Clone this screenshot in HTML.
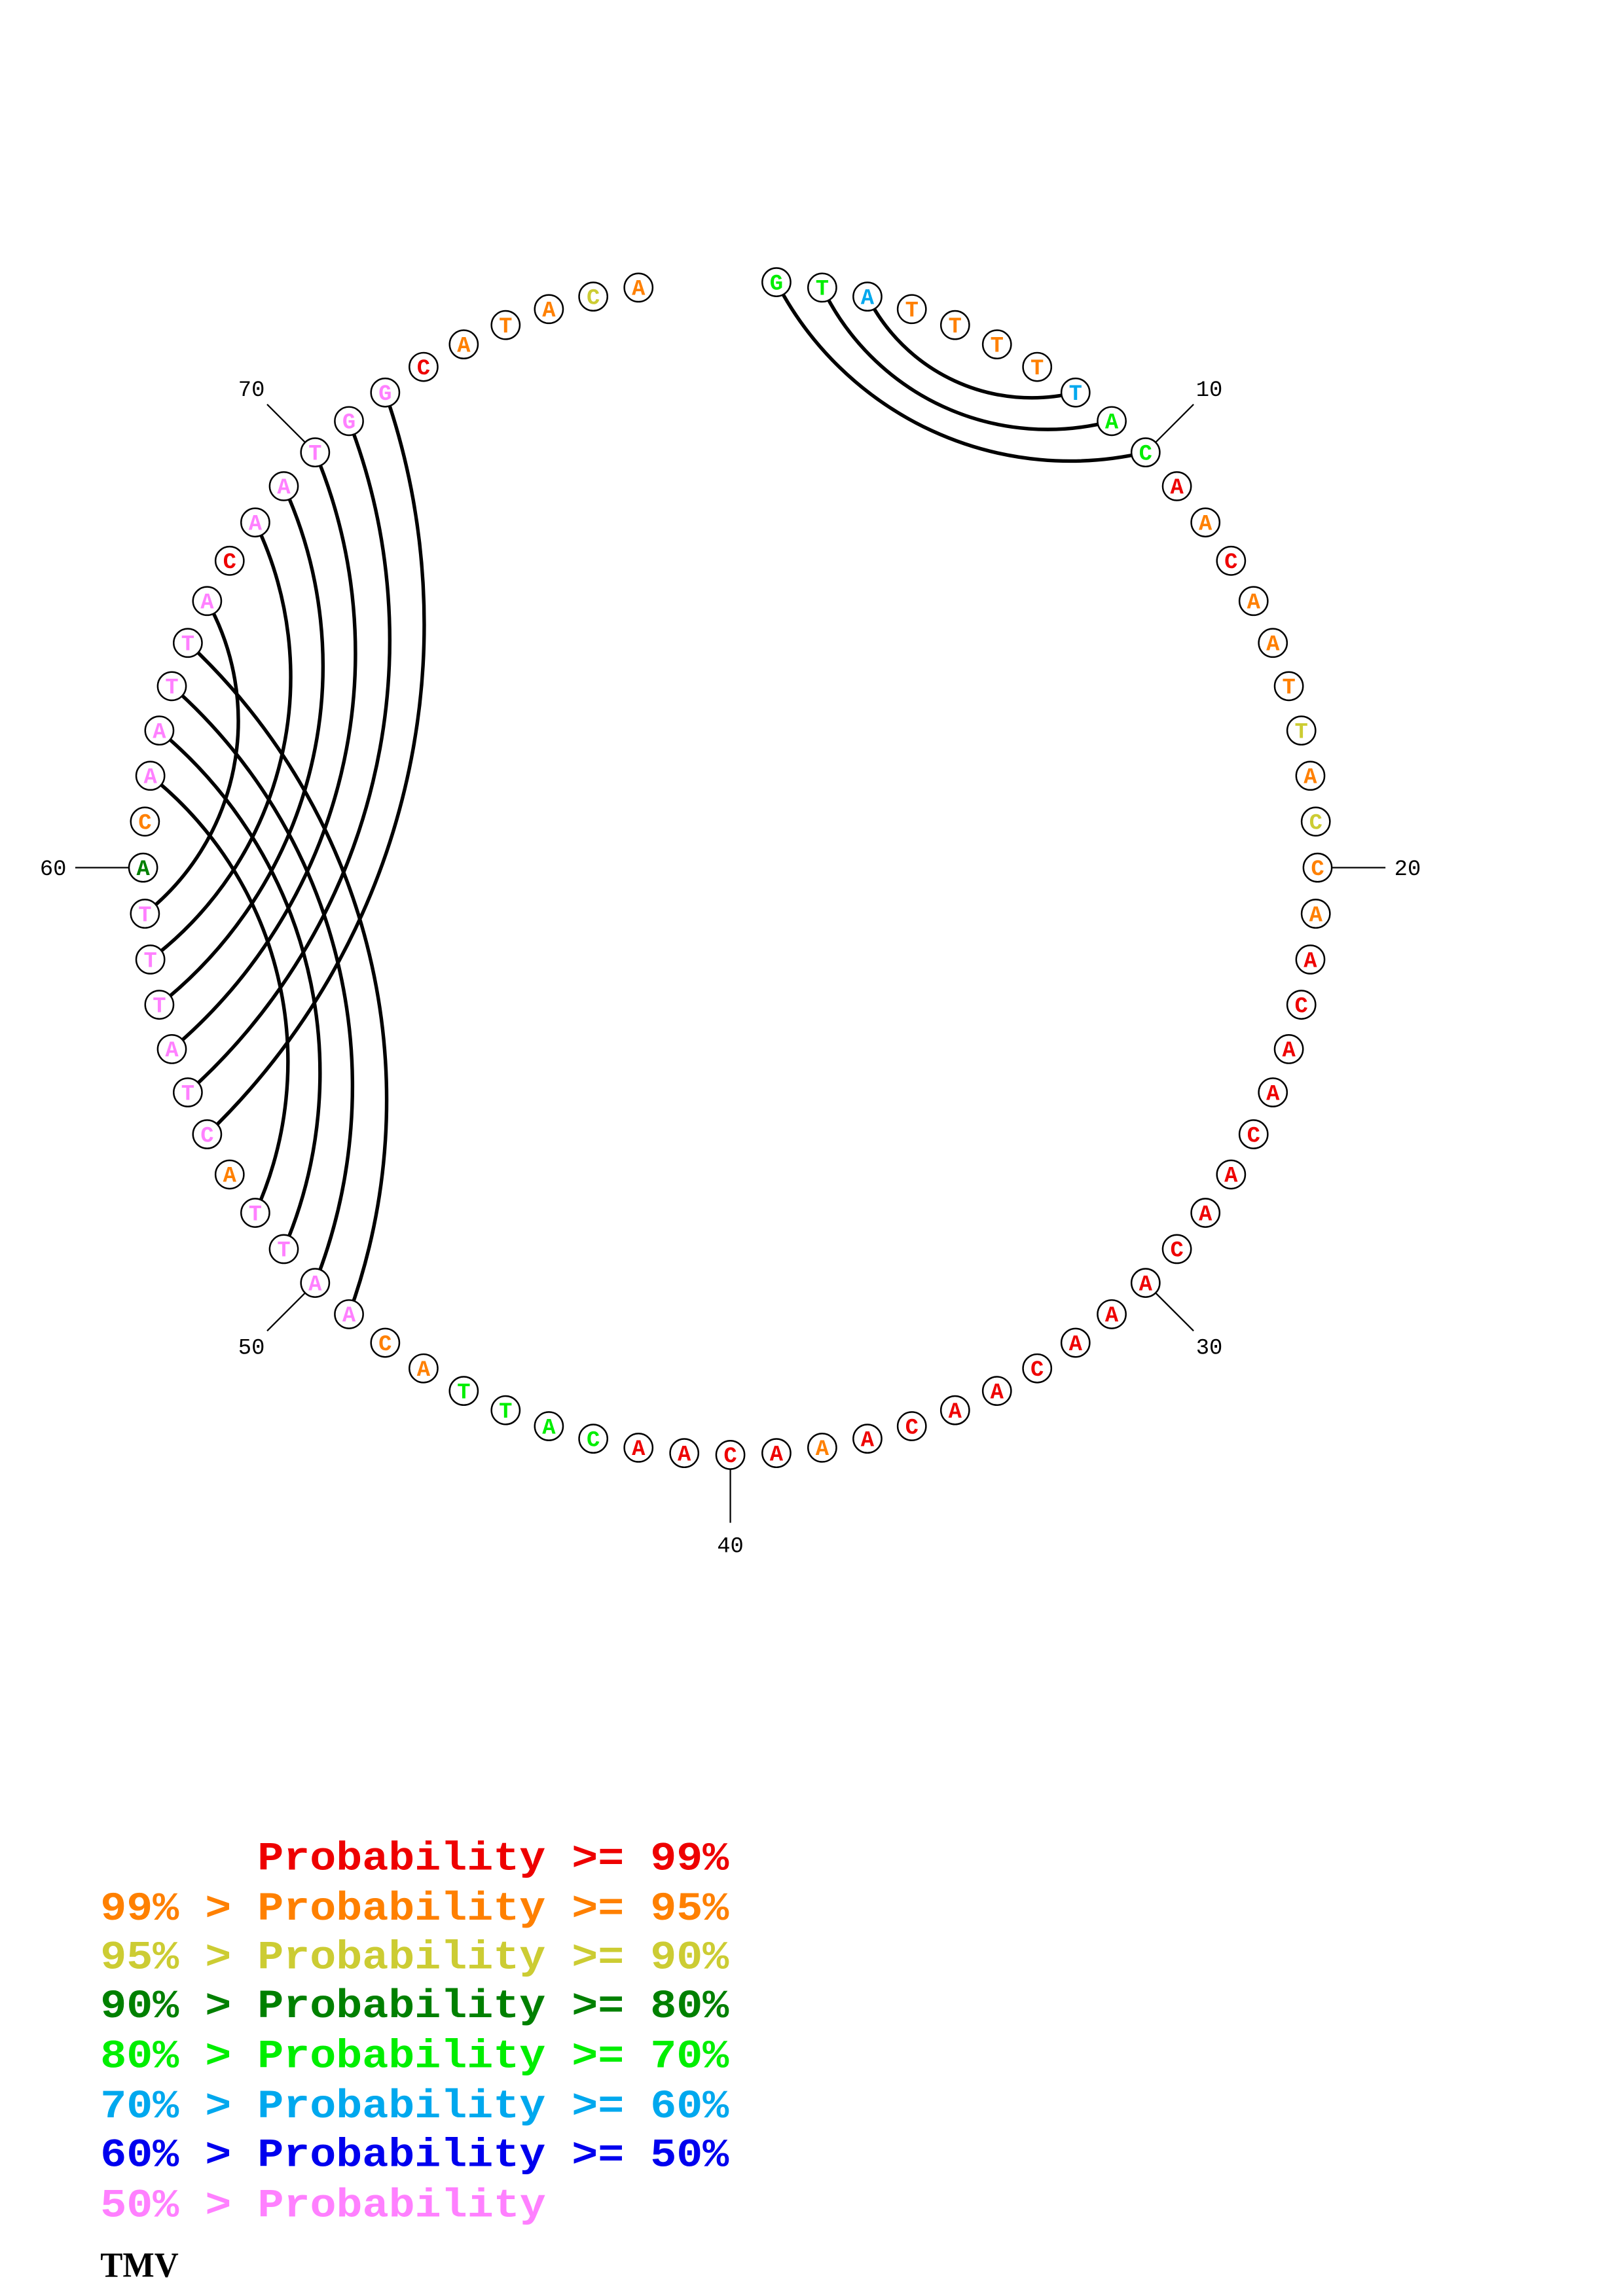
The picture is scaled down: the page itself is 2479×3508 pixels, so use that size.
<!DOCTYPE html>
<html><head><meta charset="utf-8"><style>
html,body{margin:0;padding:0;background:#fff;}
svg{display:block;}
text{white-space:pre;}
</style></head><body>
<svg id="s" xmlns="http://www.w3.org/2000/svg" width="2479" height="3508" viewBox="0 0 1100 1556" preserveAspectRatio="none">
<rect width="1100" height="1556" fill="#fff"/>
<g id="arcs" fill="none" stroke="#000" stroke-width="2.4"></g>
<g id="ticks" stroke="#000" stroke-width="1"></g>
<g id="nodes"></g>
<g font-family="'Liberation Mono', monospace" font-weight="bold" font-size="27">
<text x="68" y="1267" fill="#ee0000" textLength="426" lengthAdjust="spacingAndGlyphs">      Probability &gt;= 99%</text>
<text x="68" y="1301" fill="#ff8000" textLength="426" lengthAdjust="spacingAndGlyphs">99% &gt; Probability &gt;= 95%</text>
<text x="68" y="1334" fill="#cccc33" textLength="426" lengthAdjust="spacingAndGlyphs">95% &gt; Probability &gt;= 90%</text>
<text x="68" y="1367" fill="#008000" textLength="426" lengthAdjust="spacingAndGlyphs">90% &gt; Probability &gt;= 80%</text>
<text x="68" y="1401" fill="#00ee00" textLength="426" lengthAdjust="spacingAndGlyphs">80% &gt; Probability &gt;= 70%</text>
<text x="68" y="1435" fill="#00a8ee" textLength="426" lengthAdjust="spacingAndGlyphs">70% &gt; Probability &gt;= 60%</text>
<text x="68" y="1468" fill="#0000ee" textLength="426" lengthAdjust="spacingAndGlyphs">60% &gt; Probability &gt;= 50%</text>
<text x="68" y="1502" fill="#ff80ff" textLength="302" lengthAdjust="spacingAndGlyphs">50% &gt; Probability</text>
</g>
<text x="68" y="1543" font-family="'Liberation Serif', serif" font-weight="bold" font-size="24" textLength="53" lengthAdjust="spacingAndGlyphs">TMV</text>
</svg>
<script>
var NS="http://www.w3.org/2000/svg";
var R={r:"#ee0000",o:"#ff8000",y:"#cccc33",d:"#008000",g:"#00ee00",c:"#00a8ee",b:"#0000ee",p:"#ff80ff"};
var s1="GTATTTTTAC"+"AACAATTACC"+"AACAACAACA"+"AACAACAAAC"+"AACATTACAA"+"TTACTATTTA"+"CAATTACAAT"+"GGCATACA";
var cols="ggcoooocgg"+"roroooyoyo"+"orrrrrrrrr"+"rrrrrrrorr"+"rrggggoopp"+"ppoppppppd"+"oppppprppp"+"pproooyo";
function pos(i,r){var t=4.5*i*Math.PI/180;return [495+r*Math.sin(t),588-r*Math.cos(t)];}
var arcs=document.getElementById("arcs"),ticks=document.getElementById("ticks"),nodes=document.getElementById("nodes");
function el(n,a,p){var e=document.createElementNS(NS,n);for(var k in a)e.setAttribute(k,a[k]);p.appendChild(e);return e;}
function arc(i,j,m){var a=pos(i,398),b=pos(j,398);
 var ax=a[0],ay=a[1],bx=b[0],by=b[1],cx=m[0],cy=m[1];
 var d=2*(ax*(by-cy)+bx*(cy-ay)+cx*(ay-by));
 var ux=((ax*ax+ay*ay)*(by-cy)+(bx*bx+by*by)*(cy-ay)+(cx*cx+cy*cy)*(ay-by))/d;
 var uy=((ax*ax+ay*ay)*(cx-bx)+(bx*bx+by*by)*(ax-cx)+(cx*cx+cy*cy)*(bx-ax))/d;
 var r=Math.hypot(ax-ux,ay-uy);
 var cr=(bx-ax)*(cy-ay)-(by-ay)*(cx-ax);
 var sw=cr>0?0:1;
 var cc=(bx-ax)*(uy-ay)-(by-ay)*(ux-ax);
 var lg=((cc>0)==(cr>0))?1:0;
 el("path",{d:"M"+ax+" "+ay+" A"+r+" "+r+" 0 "+lg+" "+sw+" "+bx+" "+by},arcs);}
arc(3,8,[687,269]);arc(2,9,[698,290.6]);arc(1,10,[711,312]);
arc(66,59,[161.5,490.7]);arc(68,58,[197,456.6]);arc(69,57,[218.8,444]);
arc(70,56,[240.7,431]);arc(71,55,[264,423]);arc(72,54,[287.5,423]);
arc(62,52,[194.6,703]);arc(63,51,[216.5,712]);arc(64,50,[238.3,716]);arc(65,49,[261,716]);
for(var k=10;k<=70;k+=10){var p1=pos(k,408),p2=pos(k,444),p3=pos(k,459);
 el("line",{x1:p1[0],y1:p1[1],x2:p2[0],y2:p2[1]},ticks);
 var t=el("text",{x:p3[0],y:p3[1]+5,"text-anchor":"middle","font-family":"'Liberation Mono', monospace","font-size":"15",fill:"#000",stroke:"none"},ticks);
 t.textContent=k;}
for(var i=1;i<=78;i++){var p=pos(i,398);
 el("circle",{cx:p[0],cy:p[1],r:9.6,fill:"#fff",stroke:"#000","stroke-width":1.1},nodes);
 var t=el("text",{x:p[0],y:p[1]+5,"text-anchor":"middle","font-family":"'Liberation Mono', monospace","font-weight":"bold","font-size":"15",fill:R[cols[i-1]]},nodes);
 t.textContent=s1[i-1];}
</script>
</body></html>
